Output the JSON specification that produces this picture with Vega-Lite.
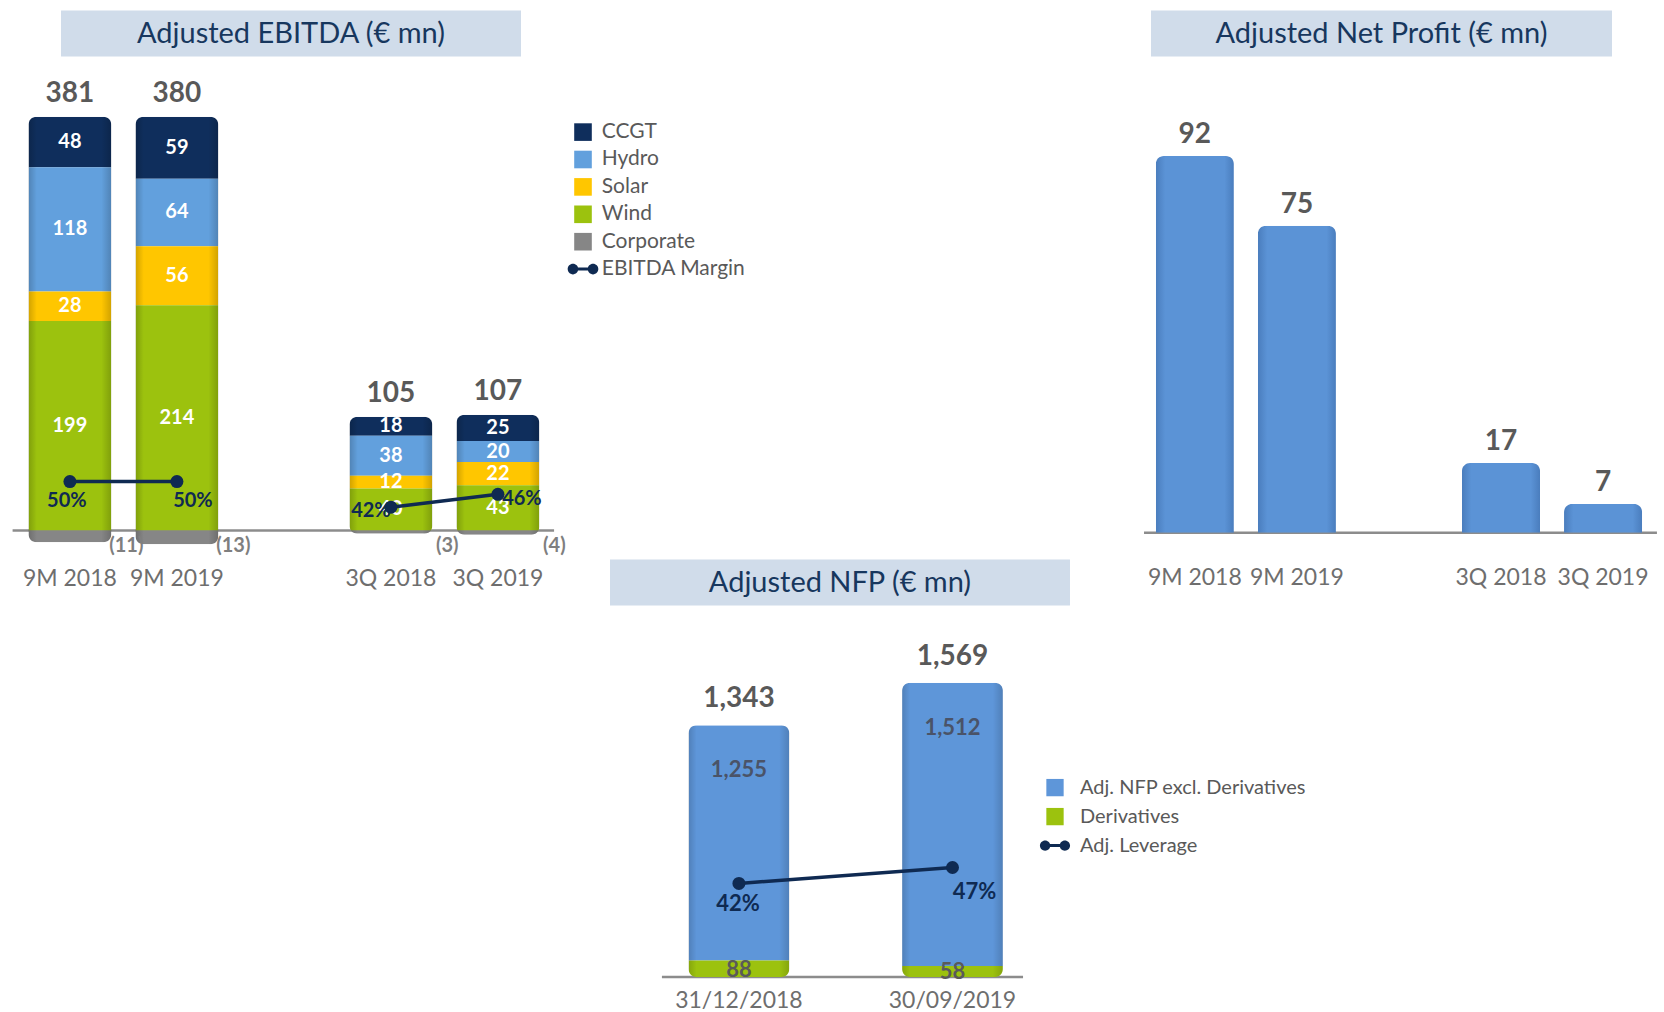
{
  "$schema": "https://vega.github.io/schema/vega-lite/v6.json",
  "background": "white",
  "padding": {"left": 11, "top": 10.6, "right": 0, "bottom": 0},
  "config": {"font": "Lato", "view": {"stroke": null}},
  "datasets": {
    "ebitda": [
      {"period": "9M 2018", "segment": "CCGT", "value": 48, "total": 381},
      {"period": "9M 2018", "segment": "Hydro", "value": 118, "total": 381},
      {"period": "9M 2018", "segment": "Solar", "value": 28, "total": 381},
      {"period": "9M 2018", "segment": "Wind", "value": 199, "total": 381},
      {"period": "9M 2018", "segment": "Corporate", "value": -11, "total": 381},
      {"period": "9M 2019", "segment": "CCGT", "value": 59, "total": 380},
      {"period": "9M 2019", "segment": "Hydro", "value": 64, "total": 380},
      {"period": "9M 2019", "segment": "Solar", "value": 56, "total": 380},
      {"period": "9M 2019", "segment": "Wind", "value": 214, "total": 380},
      {"period": "9M 2019", "segment": "Corporate", "value": -13, "total": 380},
      {"period": "3Q 2018", "segment": "CCGT", "value": 18, "total": 105},
      {"period": "3Q 2018", "segment": "Hydro", "value": 38, "total": 105},
      {"period": "3Q 2018", "segment": "Solar", "value": 12, "total": 105},
      {"period": "3Q 2018", "segment": "Wind", "value": 40, "total": 105},
      {"period": "3Q 2018", "segment": "Corporate", "value": -3, "total": 105},
      {"period": "3Q 2019", "segment": "CCGT", "value": 25, "total": 107},
      {"period": "3Q 2019", "segment": "Hydro", "value": 20, "total": 107},
      {"period": "3Q 2019", "segment": "Solar", "value": 22, "total": 107},
      {"period": "3Q 2019", "segment": "Wind", "value": 43, "total": 107},
      {"period": "3Q 2019", "segment": "Corporate", "value": -4, "total": 107}
    ],
    "margin": [
      {"period": "9M 2018", "grp": "9M", "margin": 50},
      {"period": "9M 2019", "grp": "9M", "margin": 50},
      {"period": "3Q 2018", "grp": "3Q", "margin": 42},
      {"period": "3Q 2019", "grp": "3Q", "margin": 46}
    ],
    "np": [
      {"period": "9M 2018", "value": 92},
      {"period": "9M 2019", "value": 75},
      {"period": "3Q 2018", "value": 17},
      {"period": "3Q 2019", "value": 7}
    ],
    "nfp": [
      {"date": "31/12/2018", "item": "Adj. NFP excl. Derivatives", "value": 1255, "total": 1343},
      {"date": "31/12/2018", "item": "Derivatives", "value": 88, "total": 1343},
      {"date": "30/09/2019", "item": "Adj. NFP excl. Derivatives", "value": 1512, "total": 1569},
      {"date": "30/09/2019", "item": "Derivatives", "value": 58, "total": 1569}
    ],
    "lev": [
      {"date": "31/12/2018", "lev": 42},
      {"date": "30/09/2019", "lev": 47}
    ]
  },
  "columns": 5,
  "align": "each",
  "center": {"column": true, "row": false},
  "bounds": "flush",
  "spacing": {"row": 0, "column": 0},
  "resolve": {"scale": {"color": "independent"}, "legend": {"color": "independent"}},
  "concat": [
    {"width": 460, "height": 46, "view": {"fill": "#d0dcea"}, "data": {"values": [{"t": "Adjusted EBITDA (€ mn)"}]}, "mark": {"type": "text", "fontSize": 29, "color": "#17375e"}, "encoding": {"text": {"field": "t", "type": "nominal"}}},
    {"width": 41, "height": 46, "data": {"values": [{}]}, "mark": {"type": "point", "opacity": 0}},
    {"width": 10, "height": 46, "data": {"values": [{}]}, "mark": {"type": "point", "opacity": 0}},
    {"width": 81, "height": 46, "data": {"values": [{}]}, "mark": {"type": "point", "opacity": 0}},
    {"width": 461, "height": 46, "view": {"fill": "#d0dcea"}, "data": {"values": [{"t": "Adjusted Net Profit (€ mn)"}]}, "mark": {"type": "text", "fontSize": 29, "color": "#17375e"}, "encoding": {"text": {"field": "t", "type": "nominal"}}},

    {
      "width": 556, "height": 502.4,
      "layer": [
        {
          "data": {"name": "ebitda"},
          "layer": [
            {"data": {"values": [{"a": "9M 2018", "b": "3Q 2019"}]}, "mark": {"type": "rule", "color": "#8c8c8c", "strokeWidth": 2.5},
              "encoding": {
                "x": {"field": "a", "type": "nominal", "bandPosition": -0.192, "scale": {"domain": ["9M 2018", "9M 2019", "gap", "3Q 2018", "3Q 2019"], "paddingInner": 0.226, "paddingOuter": 0.211, "align": 0.343}, "axis": null},
                "x2": {"field": "b", "bandPosition": 1.178},
                "y": {"datum": 0, "type": "quantitative", "scale": {"domain": [-27, 450], "nice": false, "zero": false}, "axis": null}}},
            {
              "transform": [{"calculate": "indexof(['Wind','Solar','Hydro','CCGT','Corporate'], datum.segment)", "as": "ord"}],
              "mark": {"type": "bar", "cornerRadius": 8},
              "encoding": {
                "x": {"field": "period", "type": "nominal", "scale": {"domain": ["9M 2018", "9M 2019", "gap", "3Q 2018", "3Q 2019"], "paddingInner": 0.226, "paddingOuter": 0.211, "align": 0.343}, "axis": null},
                "y": {"field": "value", "type": "quantitative", "stack": "zero", "scale": {"domain": [-27, 450], "nice": false, "zero": false}, "axis": null},
                "color": {"field": "segment", "type": "nominal",
                  "scale": {"domain": ["CCGT", "Hydro", "Solar", "Wind", "Corporate", "EBITDA Margin"], "range": ["#0f2e5c", "#62a0dd", "#ffc600", "#9cc20e", "#868686", "#0f2a52"]},
                  "legend": {"orient": "none", "legendX": 559.5, "legendY": 65, "title": null, "symbolType": "square", "symbolSize": 310, "symbolStrokeWidth": 0, "labelFontSize": 21, "labelColor": "#595959", "labelFont": "Lato", "labelLimit": 400, "rowPadding": 5.4, "labelOffset": 8.3, "padding": 0,
                    "encode": {"symbols": {"update": {"shape": {"signal": "datum.value === 'EBITDA Margin' ? 'M-1.74,0A0.6,0.6,0,1,1,-0.54,0A0.6,0.6,0,1,1,-1.74,0ZM0.54,0A0.6,0.6,0,1,1,1.74,0A0.6,0.6,0,1,1,0.54,0ZM-0.7,-0.17L0.7,-0.17L0.7,0.17L-0.7,0.17Z' : 'square'"}}}}}},
                "order": {"field": "ord", "type": "quantitative"}
              }
            },
            {
              "transform": [
                {"calculate": "indexof(['Wind','Solar','Hydro','CCGT','Corporate'], datum.segment)", "as": "ord"},
                {"stack": "value", "groupby": ["period"], "sort": [{"field": "ord"}], "as": ["v0", "v1"]},
                {"aggregate": [{"op": "min", "field": "v1", "as": "lo"}, {"op": "max", "field": "v1", "as": "hi"}], "groupby": ["period"]}
              ],
              "mark": {"type": "bar", "cornerRadius": 8,
                "color": {"gradient": "linear", "x1": 0, "x2": 1, "y1": 0, "y2": 0, "stops": [{"offset": 0, "color": "rgba(0,0,0,0.18)"}, {"offset": 0.1, "color": "rgba(0,0,0,0)"}, {"offset": 0.88, "color": "rgba(0,0,0,0)"}, {"offset": 1, "color": "rgba(0,0,0,0.18)"}]}},
              "encoding": {
                "x": {"field": "period", "type": "nominal", "scale": {"domain": ["9M 2018", "9M 2019", "gap", "3Q 2018", "3Q 2019"], "paddingInner": 0.226, "paddingOuter": 0.211, "align": 0.343}, "axis": null},
                "y": {"field": "lo", "type": "quantitative", "scale": {"domain": [-27, 450], "nice": false, "zero": false}, "axis": null},
                "y2": {"field": "hi"}
              }
            },
            {
              "transform": [
                {"calculate": "indexof(['Wind','Solar','Hydro','CCGT','Corporate'], datum.segment)", "as": "ord"},
                {"stack": "value", "groupby": ["period"], "sort": [{"field": "ord"}], "as": ["v0", "v1"]},
                {"filter": "datum.segment != 'Corporate'"},
                {"calculate": "(datum.v0 + datum.v1) / 2", "as": "mid"}
              ],
              "mark": {"type": "text", "color": "white", "fontWeight": "bold", "fontSize": 20},
              "encoding": {
                "x": {"field": "period", "type": "nominal", "scale": {"domain": ["9M 2018", "9M 2019", "gap", "3Q 2018", "3Q 2019"], "paddingInner": 0.226, "paddingOuter": 0.211, "align": 0.343}, "axis": null},
                "y": {"field": "mid", "type": "quantitative", "scale": {"domain": [-27, 450], "nice": false, "zero": false}, "axis": null},
                "text": {"field": "value", "type": "quantitative"}
              }
            },
            {
              "transform": [{"filter": "datum.segment == 'Corporate'"}, {"calculate": "'(' + abs(datum.value) + ')'", "as": "lbl"}],
              "mark": {"type": "text", "color": "#7f7f7f", "fontWeight": "bold", "fontSize": 20, "dx": 15, "dy": 15},
              "encoding": {
                "x": {"field": "period", "type": "nominal", "bandPosition": 1, "scale": {"domain": ["9M 2018", "9M 2019", "gap", "3Q 2018", "3Q 2019"], "paddingInner": 0.226, "paddingOuter": 0.211, "align": 0.343}, "axis": null},
                "y": {"datum": 0, "type": "quantitative", "scale": {"domain": [-27, 450], "nice": false, "zero": false}, "axis": null},
                "text": {"field": "lbl", "type": "nominal"}
              }
            },
            {
              "transform": [{"filter": "datum.value > 0"}, {"aggregate": [{"op": "sum", "field": "value", "as": "top"}], "groupby": ["period", "total"]}],
              "mark": {"type": "text", "color": "#595959", "fontWeight": "bold", "fontSize": 28, "dy": -23},
              "encoding": {
                "x": {"field": "period", "type": "nominal", "scale": {"domain": ["9M 2018", "9M 2019", "gap", "3Q 2018", "3Q 2019"], "paddingInner": 0.226, "paddingOuter": 0.211, "align": 0.343}, "axis": null},
                "y": {"field": "top", "type": "quantitative", "scale": {"domain": [-27, 450], "nice": false, "zero": false}, "axis": null},
                "text": {"field": "total", "type": "quantitative"}
              }
            },
            {
              "transform": [{"filter": "datum.segment == 'CCGT'"}],
              "mark": {"type": "text", "color": "#6e6e6e", "fontSize": 23, "dy": 48},
              "encoding": {
                "x": {"field": "period", "type": "nominal", "scale": {"domain": ["9M 2018", "9M 2019", "gap", "3Q 2018", "3Q 2019"], "paddingInner": 0.226, "paddingOuter": 0.211, "align": 0.343}, "axis": null},
                "y": {"datum": 0, "type": "quantitative", "scale": {"domain": [-27, 450], "nice": false, "zero": false}, "axis": null},
                "text": {"field": "period", "type": "nominal"}
              }
            }
          ]
        },
        {
          "data": {"name": "margin"},
          "transform": [{"calculate": "datum.margin + '%'", "as": "lbl"}],
          "encoding": {
            "x": {"field": "period", "type": "nominal", "scale": {"domain": ["9M 2018", "9M 2019", "gap", "3Q 2018", "3Q 2019"], "paddingInner": 0.226, "paddingOuter": 0.211, "align": 0.343}, "axis": null},
            "y": {"field": "margin", "type": "quantitative", "scale": {"domain": [25.8, 182.8], "nice": false, "zero": false}, "axis": null}
          },
          "layer": [
            {"mark": {"type": "line", "strokeWidth": 3.5}, "encoding": {"detail": {"field": "grp", "type": "nominal"}, "color": {"datum": "EBITDA Margin", "type": "nominal",
              "scale": {"domain": ["CCGT", "Hydro", "Solar", "Wind", "Corporate", "EBITDA Margin"], "range": ["#0f2e5c", "#62a0dd", "#ffc600", "#9cc20e", "#868686", "#0f2a52"]},
              "legend": {"orient": "none", "legendX": 559.5, "legendY": 65, "title": null, "symbolType": "square", "symbolSize": 310, "symbolStrokeWidth": 0, "labelFontSize": 21, "labelColor": "#595959", "labelFont": "Lato", "labelLimit": 400, "rowPadding": 5.4, "labelOffset": 8.3, "padding": 0,
                "encode": {"symbols": {"update": {"shape": {"signal": "datum.value === 'EBITDA Margin' ? 'M-1.74,0A0.6,0.6,0,1,1,-0.54,0A0.6,0.6,0,1,1,-1.74,0ZM0.54,0A0.6,0.6,0,1,1,1.74,0A0.6,0.6,0,1,1,0.54,0ZM-0.7,-0.17L0.7,-0.17L0.7,0.17L-0.7,0.17Z' : 'square'"}}}}}}}},
            {"mark": {"type": "point", "filled": true, "size": 169, "opacity": 1, "color": "#0f2a52"}},
            {"transform": [{"filter": "datum.period == '9M 2018'"}], "mark": {"type": "text", "color": "#0f2a52", "fontWeight": "bold", "fontSize": 20, "dx": -3, "dy": 19}, "encoding": {"text": {"field": "lbl", "type": "nominal"}}},
            {"transform": [{"filter": "datum.period == '9M 2019'"}], "mark": {"type": "text", "color": "#0f2a52", "fontWeight": "bold", "fontSize": 20, "dx": 16, "dy": 19}, "encoding": {"text": {"field": "lbl", "type": "nominal"}}},
            {"transform": [{"filter": "datum.period == '3Q 2018'"}], "mark": {"type": "text", "color": "#0f2a52", "fontWeight": "bold", "fontSize": 20, "dx": -20, "dy": 4}, "encoding": {"text": {"field": "lbl", "type": "nominal"}}},
            {"transform": [{"filter": "datum.period == '3Q 2019'"}], "mark": {"type": "text", "color": "#0f2a52", "fontWeight": "bold", "fontSize": 20, "dx": 24, "dy": 5}, "encoding": {"text": {"field": "lbl", "type": "nominal"}}}
          ]
        }
      ],
      "resolve": {"scale": {"y": "independent"}}
    },
    {"width": 41, "height": 502.4, "data": {"values": [{}]}, "mark": {"type": "point", "opacity": 0}},
    {"width": 10, "height": 502.4, "data": {"values": [{}]}, "mark": {"type": "point", "opacity": 0}},
    {"width": 81, "height": 502.4, "data": {"values": [{}]}, "mark": {"type": "point", "opacity": 0}},
    {
      "width": 505, "height": 502.4,
      "data": {"name": "np"},
      "layer": [
        {"data": {"values": [{"a": "9M 2018", "b": "3Q 2019"}]}, "mark": {"type": "rule", "color": "#8c8c8c", "strokeWidth": 2.5},
          "encoding": {
            "x": {"field": "a", "type": "nominal", "bandPosition": -0.151, "scale": {"domain": ["9M 2018", "9M 2019", "gap", "3Q 2018", "3Q 2019"], "paddingInner": 0.235, "paddingOuter": 0.0916, "align": 0.257}, "axis": null},
            "x2": {"field": "b", "bandPosition": 1.19},
            "y": {"datum": 0, "type": "quantitative", "scale": {"domain": [-6.42, 116.29], "nice": false, "zero": false}, "axis": null}}},
        {"mark": {"type": "bar", "cornerRadiusTopLeft": 8, "cornerRadiusTopRight": 8,
          "color": {"gradient": "linear", "x1": 0, "x2": 1, "y1": 0, "y2": 0, "stops": [{"offset": 0, "color": "#4a7dbd"}, {"offset": 0.12, "color": "#5b93d6"}, {"offset": 0.88, "color": "#5b93d6"}, {"offset": 1, "color": "#4a7dbd"}]}},
          "encoding": {
            "x": {"field": "period", "type": "nominal", "scale": {"domain": ["9M 2018", "9M 2019", "gap", "3Q 2018", "3Q 2019"], "paddingInner": 0.235, "paddingOuter": 0.0916, "align": 0.257}, "axis": null},
            "y": {"field": "value", "type": "quantitative", "scale": {"domain": [-6.42, 116.29], "nice": false, "zero": false}, "axis": null}}},
        {"mark": {"type": "text", "color": "#595959", "fontWeight": "bold", "fontSize": 28, "dy": -21},
          "encoding": {
            "x": {"field": "period", "type": "nominal", "scale": {"domain": ["9M 2018", "9M 2019", "gap", "3Q 2018", "3Q 2019"], "paddingInner": 0.235, "paddingOuter": 0.0916, "align": 0.257}, "axis": null},
            "y": {"field": "value", "type": "quantitative", "scale": {"domain": [-6.42, 116.29], "nice": false, "zero": false}, "axis": null}, "text": {"field": "value", "type": "quantitative"}}},
        {"mark": {"type": "text", "color": "#6e6e6e", "fontSize": 23, "dy": 45.6},
          "encoding": {
            "x": {"field": "period", "type": "nominal", "scale": {"domain": ["9M 2018", "9M 2019", "gap", "3Q 2018", "3Q 2019"], "paddingInner": 0.235, "paddingOuter": 0.0916, "align": 0.257}, "axis": null},
            "y": {"datum": 0, "type": "quantitative", "scale": {"domain": [-6.42, 116.29], "nice": false, "zero": false}, "axis": null}, "text": {"field": "period", "type": "nominal"}}}
      ]
    },

    {"width": 10, "height": 46, "data": {"values": [{}]}, "mark": {"type": "point", "opacity": 0}},
    {"width": 41, "height": 46, "data": {"values": [{}]}, "mark": {"type": "point", "opacity": 0}},
    {"width": 460, "height": 46, "view": {"fill": "#d0dcea"}, "data": {"values": [{"t": "Adjusted NFP (€ mn)"}]}, "mark": {"type": "text", "fontSize": 29, "color": "#17375e"}, "encoding": {"text": {"field": "t", "type": "nominal"}}},
    {"width": 81, "height": 46, "data": {"values": [{}]}, "mark": {"type": "point", "opacity": 0}},
    {"width": 10, "height": 46, "data": {"values": [{}]}, "mark": {"type": "point", "opacity": 0}},

    {"width": 10, "height": 385, "data": {"values": [{}]}, "mark": {"type": "point", "opacity": 0}},
    {"width": 41, "height": 385, "data": {"values": [{}]}, "mark": {"type": "point", "opacity": 0}},
    {
      "width": 413, "height": 385,
      "layer": [
        {
          "data": {"name": "nfp"},
          "layer": [
            {"data": {"values": [{"a": "31/12/2018", "b": "30/09/2019"}]}, "mark": {"type": "rule", "color": "#8c8c8c", "strokeWidth": 2.5},
              "encoding": {
                "x": {"field": "a", "type": "nominal", "bandPosition": -0.264, "scale": {"domain": ["31/12/2018", "30/09/2019"], "paddingInner": 0.528, "paddingOuter": 0.231, "align": 0.796}, "axis": null},
                "x2": {"field": "b", "bandPosition": 1.2},
                "y": {"datum": 0, "type": "quantitative", "scale": {"domain": [-73.1, 1982.4], "nice": false, "zero": false}, "axis": null}}},
            {
              "transform": [{"calculate": "indexof(['Derivatives','Adj. NFP excl. Derivatives'], datum.item)", "as": "ord"}],
              "mark": {"type": "bar", "cornerRadius": 8},
              "encoding": {
                "x": {"field": "date", "type": "nominal", "scale": {"domain": ["31/12/2018", "30/09/2019"], "paddingInner": 0.528, "paddingOuter": 0.231, "align": 0.796}, "axis": null},
                "y": {"field": "value", "type": "quantitative", "stack": "zero", "scale": {"domain": [-73.1, 1982.4], "nice": false, "zero": false}, "axis": null},
                "color": {"field": "item", "type": "nominal",
                  "scale": {"domain": ["Adj. NFP excl. Derivatives", "Derivatives", "Adj. Leverage"], "range": ["#5e96d9", "#9cc20e", "#0f2a52"]},
                  "legend": {"orient": "none", "legendX": 435, "legendY": 172, "title": null, "symbolType": "square", "symbolSize": 300, "symbolStrokeWidth": 0, "labelFontSize": 20, "labelColor": "#595959", "labelFont": "Lato", "labelLimit": 400, "rowPadding": 9, "labelOffset": 15, "padding": 0,
                    "encode": {"symbols": {"update": {"shape": {"signal": "datum.value === 'Adj. Leverage' ? 'M-1.74,0A0.6,0.6,0,1,1,-0.54,0A0.6,0.6,0,1,1,-1.74,0ZM0.54,0A0.6,0.6,0,1,1,1.74,0A0.6,0.6,0,1,1,0.54,0ZM-0.7,-0.17L0.7,-0.17L0.7,0.17L-0.7,0.17Z' : 'square'"}}}}}},
                "order": {"field": "ord", "type": "quantitative"}
              }
            },
            {
              "transform": [
                {"calculate": "indexof(['Derivatives','Adj. NFP excl. Derivatives'], datum.item)", "as": "ord"},
                {"stack": "value", "groupby": ["date"], "sort": [{"field": "ord"}], "as": ["v0", "v1"]},
                {"aggregate": [{"op": "min", "field": "v0", "as": "lo"}, {"op": "max", "field": "v1", "as": "hi"}], "groupby": ["date"]}
              ],
              "mark": {"type": "bar", "cornerRadius": 8,
                "color": {"gradient": "linear", "x1": 0, "x2": 1, "y1": 0, "y2": 0, "stops": [{"offset": 0, "color": "rgba(0,0,0,0.15)"}, {"offset": 0.08, "color": "rgba(0,0,0,0)"}, {"offset": 0.9, "color": "rgba(0,0,0,0)"}, {"offset": 1, "color": "rgba(0,0,0,0.15)"}]}},
              "encoding": {
                "x": {"field": "date", "type": "nominal", "scale": {"domain": ["31/12/2018", "30/09/2019"], "paddingInner": 0.528, "paddingOuter": 0.231, "align": 0.796}, "axis": null},
                "y": {"field": "lo", "type": "quantitative", "scale": {"domain": [-73.1, 1982.4], "nice": false, "zero": false}, "axis": null},
                "y2": {"field": "hi"}
              }
            },
            {
              "transform": [
                {"calculate": "indexof(['Derivatives','Adj. NFP excl. Derivatives'], datum.item)", "as": "ord"},
                {"stack": "value", "groupby": ["date"], "sort": [{"field": "ord"}], "as": ["v0", "v1"]},
                {"filter": "datum.item == 'Adj. NFP excl. Derivatives'"}
              ],
              "mark": {"type": "text", "color": "#4a5368", "fontWeight": "bold", "fontSize": 22, "dy": 45},
              "encoding": {
                "x": {"field": "date", "type": "nominal", "scale": {"domain": ["31/12/2018", "30/09/2019"], "paddingInner": 0.528, "paddingOuter": 0.231, "align": 0.796}, "axis": null},
                "y": {"field": "v1", "type": "quantitative", "scale": {"domain": [-73.1, 1982.4], "nice": false, "zero": false}, "axis": null},
                "text": {"field": "value", "type": "quantitative", "format": ","}
              }
            },
            {
              "transform": [
                {"calculate": "indexof(['Derivatives','Adj. NFP excl. Derivatives'], datum.item)", "as": "ord"},
                {"stack": "value", "groupby": ["date"], "sort": [{"field": "ord"}], "as": ["v0", "v1"]},
                {"filter": "datum.item == 'Derivatives'"},
                {"calculate": "(datum.v0 + datum.v1) / 2", "as": "mid"}
              ],
              "mark": {"type": "text", "color": "#5a5a5a", "fontWeight": "bold", "fontSize": 22, "dy": 1},
              "encoding": {
                "x": {"field": "date", "type": "nominal", "scale": {"domain": ["31/12/2018", "30/09/2019"], "paddingInner": 0.528, "paddingOuter": 0.231, "align": 0.796}, "axis": null},
                "y": {"field": "mid", "type": "quantitative", "scale": {"domain": [-73.1, 1982.4], "nice": false, "zero": false}, "axis": null},
                "text": {"field": "value", "type": "quantitative"}
              }
            },
            {
              "transform": [{"aggregate": [{"op": "sum", "field": "value", "as": "top"}], "groupby": ["date", "total"]}],
              "mark": {"type": "text", "color": "#595959", "fontWeight": "bold", "fontSize": 28, "dy": -26},
              "encoding": {
                "x": {"field": "date", "type": "nominal", "scale": {"domain": ["31/12/2018", "30/09/2019"], "paddingInner": 0.528, "paddingOuter": 0.231, "align": 0.796}, "axis": null},
                "y": {"field": "top", "type": "quantitative", "scale": {"domain": [-73.1, 1982.4], "nice": false, "zero": false}, "axis": null},
                "text": {"field": "total", "type": "quantitative", "format": ","}
              }
            },
            {
              "transform": [{"filter": "datum.item == 'Derivatives'"}],
              "mark": {"type": "text", "color": "#6e6e6e", "fontSize": 23, "dy": 24.4},
              "encoding": {
                "x": {"field": "date", "type": "nominal", "scale": {"domain": ["31/12/2018", "30/09/2019"], "paddingInner": 0.528, "paddingOuter": 0.231, "align": 0.796}, "axis": null},
                "y": {"datum": 0, "type": "quantitative", "scale": {"domain": [-73.1, 1982.4], "nice": false, "zero": false}, "axis": null},
                "text": {"field": "date", "type": "nominal"}
              }
            }
          ]
        },
        {
          "data": {"name": "lev"},
          "transform": [{"calculate": "datum.lev + '%'", "as": "lbl"}],
          "encoding": {
            "x": {"field": "date", "type": "nominal", "scale": {"domain": ["31/12/2018", "30/09/2019"], "paddingInner": 0.528, "paddingOuter": 0.231, "align": 0.796}, "axis": null},
            "y": {"field": "lev", "type": "quantitative", "scale": {"domain": [8.29, 129.36], "nice": false, "zero": false}, "axis": null}
          },
          "layer": [
            {"mark": {"type": "line", "strokeWidth": 3.5}, "encoding": {"color": {"datum": "Adj. Leverage", "type": "nominal",
              "scale": {"domain": ["Adj. NFP excl. Derivatives", "Derivatives", "Adj. Leverage"], "range": ["#5e96d9", "#9cc20e", "#0f2a52"]},
              "legend": {"orient": "none", "legendX": 435, "legendY": 172, "title": null, "symbolType": "square", "symbolSize": 300, "symbolStrokeWidth": 0, "labelFontSize": 20, "labelColor": "#595959", "labelFont": "Lato", "labelLimit": 400, "rowPadding": 9, "labelOffset": 15, "padding": 0,
                "encode": {"symbols": {"update": {"shape": {"signal": "datum.value === 'Adj. Leverage' ? 'M-1.74,0A0.6,0.6,0,1,1,-0.54,0A0.6,0.6,0,1,1,-1.74,0ZM0.54,0A0.6,0.6,0,1,1,1.74,0A0.6,0.6,0,1,1,0.54,0ZM-0.7,-0.17L0.7,-0.17L0.7,0.17L-0.7,0.17Z' : 'square'"}}}}}}}},
            {"mark": {"type": "point", "filled": true, "size": 169, "opacity": 1, "color": "#0f2a52"}},
            {"transform": [{"filter": "datum.date == '31/12/2018'"}], "mark": {"type": "text", "color": "#0f2a52", "fontWeight": "bold", "fontSize": 22, "dx": -1, "dy": 21}, "encoding": {"text": {"field": "lbl", "type": "nominal"}}},
            {"transform": [{"filter": "datum.date == '30/09/2019'"}], "mark": {"type": "text", "color": "#0f2a52", "fontWeight": "bold", "fontSize": 22, "dx": 22, "dy": 25}, "encoding": {"text": {"field": "lbl", "type": "nominal"}}}
          ]
        }
      ],
      "resolve": {"scale": {"y": "independent"}}
    },
    {"width": 81, "height": 385, "data": {"values": [{}]}, "mark": {"type": "point", "opacity": 0}},
    {"width": 10, "height": 385, "data": {"values": [{}]}, "mark": {"type": "point", "opacity": 0}}
  ]
}
